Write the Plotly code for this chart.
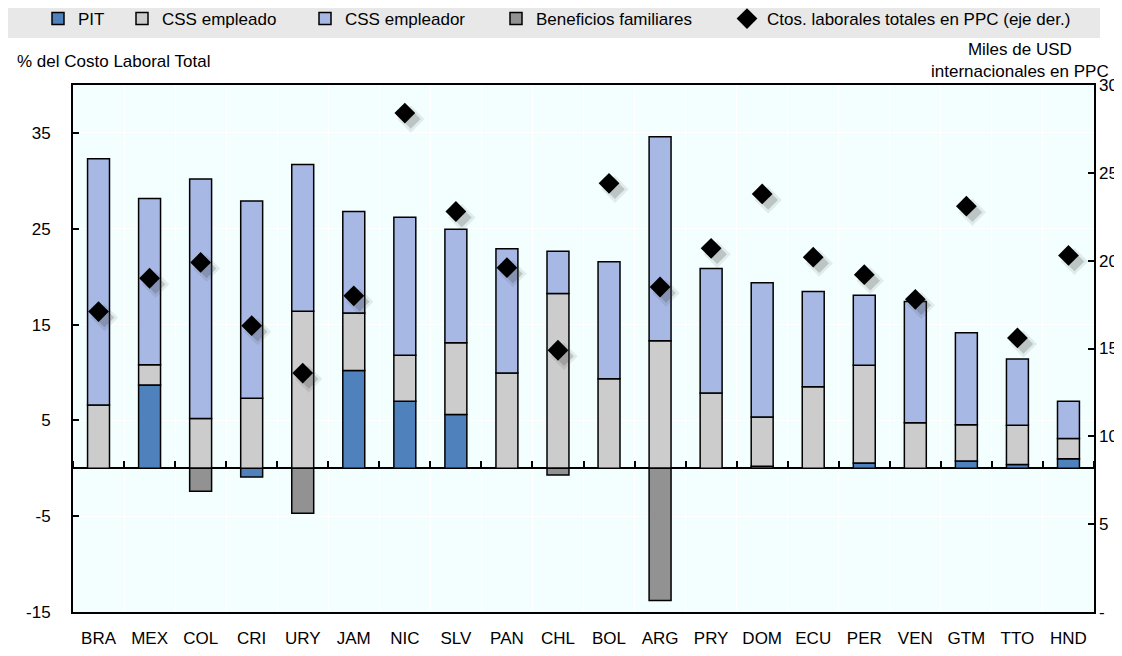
import plotly.graph_objects as go

countries = ["BRA", "MEX", "COL", "CRI", "URY", "JAM", "NIC", "SLV", "PAN", "CHL",
             "BOL", "ARG", "PRY", "DOM", "ECU", "PER", "VEN", "GTM", "TTO", "HND"]
pit = [None, 8.7, None, -0.9, None, 10.2, 7.0, 5.6, None, None,
       None, None, None, 0.2, None, 0.55, None, 0.75, 0.4, 1.0]
css_empleado = [6.6, 2.1, 5.2, 7.3, 16.4, 6.0, 4.8, 7.5, 9.95, 18.25,
                9.35, 13.3, 7.85, 5.15, 8.5, 10.2, 4.75, 3.8, 4.1, 2.1]
css_empleador = [25.7, 17.35, 25.0, 20.6, 15.3, 10.6, 14.4, 11.85, 12.95, 4.4,
                 12.2, 21.3, 13.0, 14.0, 9.95, 7.3, 12.65, 9.6, 6.9, 3.9]
beneficios = [None, None, -2.4, None, -4.7, None, None, None, None, -0.7,
              None, -13.8, None, None, None, None, None, None, None, None]
costo_ppc = [17.1, 19.0, 19.9, 16.3, 13.6, 18.0, 28.4, 22.8, 19.6, 14.9,
             24.4, 18.5, 20.7, 23.8, 20.2, 19.2, 17.8, 23.1, 15.6, 20.3]

left_ticks = [-15, -5, 5, 15, 25, 35]
left_ticktext = ["-15", "-5", "5", "15", "25", "35"]
right_ticks = [0, 5, 10, 15, 20, 25, 30]
right_ticktext = ["-", "5", "10", "15", "20", "25", "30"]

FONT = "Liberation Sans, Arial, sans-serif"
OFF = 8  # page body margin of the html page
SW, SH = 1122, 656  # screenshot size
W, H = SW - OFF, SH - OFF
# plot area in screenshot pixels
PX0, PX1, PY0, PY1 = 73, 1094, 85, 612
L, R, T, B = PX0 - OFF, SW - PX1, PY0 - OFF, SH - PY1
pw, ph = W - L - R, H - T - B

def px_x(x):
    return (x - PX0) / pw

def px_y(y):
    return (PY1 - y) / ph

fig = go.Figure()
line = dict(color="black", width=1.5)
fig.add_trace(go.Bar(name="PIT", x=countries, y=pit, legend="legend",
                     marker=dict(color="#4F81BD", line=line)))
fig.add_trace(go.Bar(name="CSS empleado", x=countries, y=css_empleado, legend="legend2",
                     marker=dict(color="#CCCCCC", line=line)))
fig.add_trace(go.Bar(name="CSS empleador", x=countries, y=css_empleador, legend="legend3",
                     marker=dict(color="#A7B8E4", line=line)))
fig.add_trace(go.Bar(name="Beneficios familiares", x=countries, y=beneficios, legend="legend4",
                     marker=dict(color="#929292", line=line)))

# soft drop shadows (on invisible, slightly shifted axes)
fig.add_trace(go.Scatter(x=countries, y=costo_ppc, mode="markers", xaxis="x2", yaxis="y2",
                         marker=dict(symbol="diamond", size=21, color="rgba(60,60,60,0.10)"),
                         showlegend=False, hoverinfo="skip"))
fig.add_trace(go.Scatter(x=countries, y=costo_ppc, mode="markers", xaxis="x2", yaxis="y2",
                         marker=dict(symbol="diamond", size=15, color="rgba(60,60,60,0.22)"),
                         showlegend=False, hoverinfo="skip"))
fig.add_trace(go.Scatter(name="Ctos. laborales totales en PPC (eje der.)", x=countries, y=costo_ppc,
                         mode="markers", xaxis="x3", yaxis="y3", legend="legend5",
                         marker=dict(symbol="diamond", size=16, color="black")))

sx = 6 / (pw / 20)
sy = 6 / (ph / 30)

def leg(text_start):
    return dict(orientation="h", x=px_x(text_start - 40), xanchor="left", y=px_y(19),
                yanchor="middle", bgcolor="rgba(0,0,0,0)", font=dict(size=17),
                itemwidth=30)

fig.update_layout(
    width=W, height=H,
    margin=dict(l=L, r=R, t=T, b=B, autoexpand=False),
    paper_bgcolor="white",
    plot_bgcolor="#F3FFFF",
    barmode="relative",
    bargap=0.57,
    font=dict(family=FONT, size=17, color="black"),
    showlegend=True,
    legend=leg(78), legend2=leg(162), legend3=leg(345), legend4=leg(536), legend5=leg(767),
    xaxis=dict(range=[-0.5, 19.5], showline=True, mirror=True, linecolor="black", linewidth=2,
               showgrid=True, gridcolor="white", gridwidth=1, tickson="boundaries",
               ticks="", ticklabelstandoff=10, tickfont=dict(size=17)),
    yaxis=dict(range=[-15, 40], tickvals=left_ticks, ticktext=left_ticktext, showline=True,
               mirror=True, linecolor="black", linewidth=2, ticks="inside", ticklen=6,
               tickwidth=2, tickcolor="black", showgrid=True, gridcolor="white", gridwidth=1,
               zeroline=True, zerolinecolor="black", zerolinewidth=2,
               ticklabelstandoff=17, tickfont=dict(size=17)),
    xaxis2=dict(overlaying="x", range=[-0.5 - sx, 19.5 - sx], visible=False, anchor="y2"),
    yaxis2=dict(overlaying="y", range=[sy, 30 + sy], visible=False, anchor="x2"),
    xaxis3=dict(overlaying="x", range=[-0.5, 19.5], anchor="free", position=15 / 55,
                side="top", showticklabels=False, ticks="outside", tickson="boundaries",
                ticklen=7, tickwidth=2, tickcolor="black", showgrid=False, showline=False,
                visible=True),
    yaxis3=dict(overlaying="y", side="right", anchor="x", range=[0, 30], tickvals=right_ticks,
                ticktext=right_ticktext, ticks="inside", ticklen=6, tickwidth=2,
                tickcolor="black", showgrid=False, showline=False, zeroline=False,
                ticklabelstandoff=4, tickfont=dict(size=17)),
    shapes=[dict(type="rect", xref="paper", yref="paper", x0=px_x(5), x1=px_x(1100),
                 y0=px_y(38), y1=px_y(1), fillcolor="#E8E8E8", line=dict(width=0),
                 layer="below")],
    annotations=[
        dict(text="% del Costo Laboral Total", xref="paper", yref="paper", x=px_x(15),
             y=px_y(62), xanchor="left", yanchor="middle", showarrow=False,
             font=dict(size=17)),
        dict(text="Miles de USD<br>internacionales en PPC", xref="paper", yref="paper",
             x=px_x(1020), y=px_y(61), xanchor="center", yanchor="middle", align="center",
             showarrow=False, font=dict(size=17)),
    ],
)

fig.write_html("out.html")
